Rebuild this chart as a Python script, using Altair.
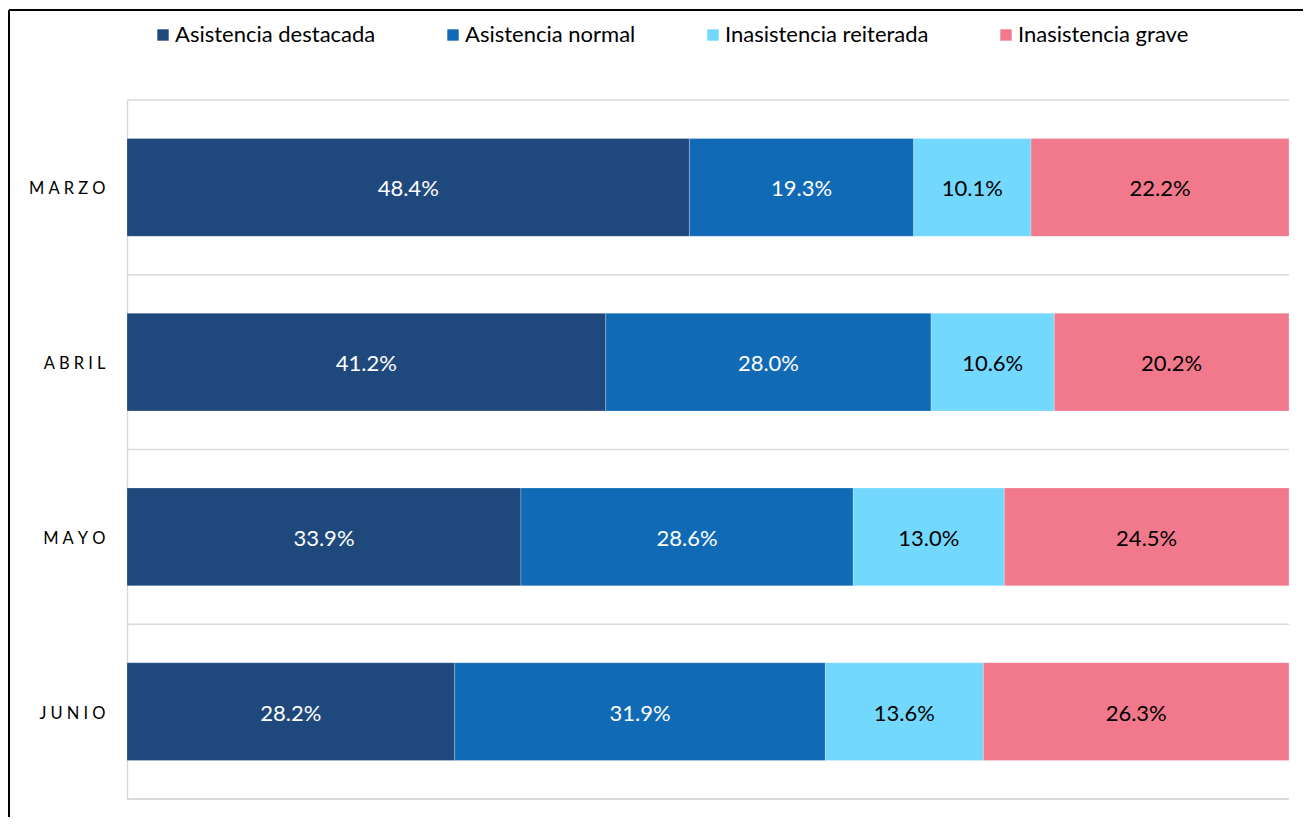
import altair as alt
import pandas as pd

months = ["MARZO", "ABRIL", "MAYO", "JUNIO"]
series = ["Asistencia destacada", "Asistencia normal", "Inasistencia reiterada", "Inasistencia grave"]
colors = ["#1F497D", "#116AB6", "#72D8FE", "#F2798B"]
text_colors = ["white", "white", "black", "black"]
destacada = [48.4, 41.2, 33.9, 28.2]
normal = [19.3, 28.0, 28.6, 31.9]
reiterada = [10.1, 10.6, 13.0, 13.6]
grave = [22.2, 20.2, 24.5, 26.3]

rows = []
for i, m in enumerate(months):
    for j, (s, vals) in enumerate(zip(series, [destacada, normal, reiterada, grave])):
        rows.append({"month": m, "serie": s, "value": vals[i], "order": j, "tc": text_colors[j]})
df = pd.DataFrame(rows)
mdf = pd.DataFrame({"month": months})

FONT = "Lato"
GRID = "#D9D9D9"

base = alt.Chart(df).transform_stack(
    stack="value", groupby=["month"], as_=["x0", "x1"], sort=[alt.SortField("order")]
).transform_calculate(
    mid="(datum.x0 + datum.x1) / 2",
    pct="format(datum.value, '.1f') + '%'",
)

yaxis = alt.Axis(
    grid=False, ticks=False, domain=True, domainColor=GRID, domainWidth=1.5,
    labelFont=FONT, labelFontSize=16.5, labelColor="#000000", labelPadding=22,
    labelOffset=2,
    labelExpr="join(split(datum.label, ''), '\u2009\u2009')",
)
yscale = alt.Scale(paddingInner=0.44, paddingOuter=0.22)
xscale = alt.Scale(domain=[0, 100], nice=False)

# horizontal separators at band boundaries (decoration)
grid_top = alt.Chart(mdf).mark_rule(color=GRID, strokeWidth=1.5).encode(
    y=alt.Y("month:N", sort=months, title=None, scale=yscale, axis=yaxis, bandPosition=0),
    yOffset=alt.value(-38.4),
    x=alt.value(0), x2=alt.value(1162),
)
grid_bottom = alt.Chart(mdf).mark_rule(color=GRID, strokeWidth=1.5).encode(
    y=alt.value(699), x=alt.value(0), x2=alt.value(1162),
)

bars = base.mark_bar(stroke="white", strokeWidth=0.4, strokeOpacity=0.6).encode(
    y=alt.Y("month:N", sort=months, title=None, scale=yscale, axis=yaxis),
    x=alt.X("x0:Q", scale=xscale, axis=None),
    x2="x1:Q",
    color=alt.Color(
        "serie:N",
        scale=alt.Scale(domain=series, range=colors),
        sort=series,
        legend=alt.Legend(
            title=None, orient="none", direction="horizontal", columns=4,
            legendX=25, legendY=-76, symbolType="square", symbolSize=130,
            symbolStrokeWidth=0, labelFont=FONT, labelFontSize=22,
            labelColor="#000000", columnPadding=66, labelOffset=1, labelLimit=0,
        ),
    ),
    order=alt.Order("order:Q"),
)

labels = base.mark_text(font=FONT, fontSize=22, dy=2).encode(
    y=alt.Y("month:N", sort=months, title=None, scale=yscale, axis=yaxis),
    x=alt.X("mid:Q", scale=xscale, axis=None),
    text="pct:N",
    color=alt.Color("tc:N", scale=None),
)

border_left = alt.Chart(mdf).mark_rule(color="black", strokeWidth=2).encode(
    x=alt.value(-118), y=alt.value(-90), y2=alt.value(725)
)
border_top = alt.Chart(mdf).mark_rule(color="black", strokeWidth=2).encode(
    x=alt.value(-118), x2=alt.value(1190), y=alt.value(-90)
)

chart = alt.layer(grid_top, grid_bottom, bars, labels, border_left, border_top).properties(
    width=1162, height=699,
    autosize=alt.AutoSizeParams(type="none"),
    padding={"left": 119, "top": 92, "right": 14, "bottom": 18},
).configure(background="white").configure_view(stroke=None)

chart.save("out.html", embed_options={"renderer": "svg", "actions": False})
